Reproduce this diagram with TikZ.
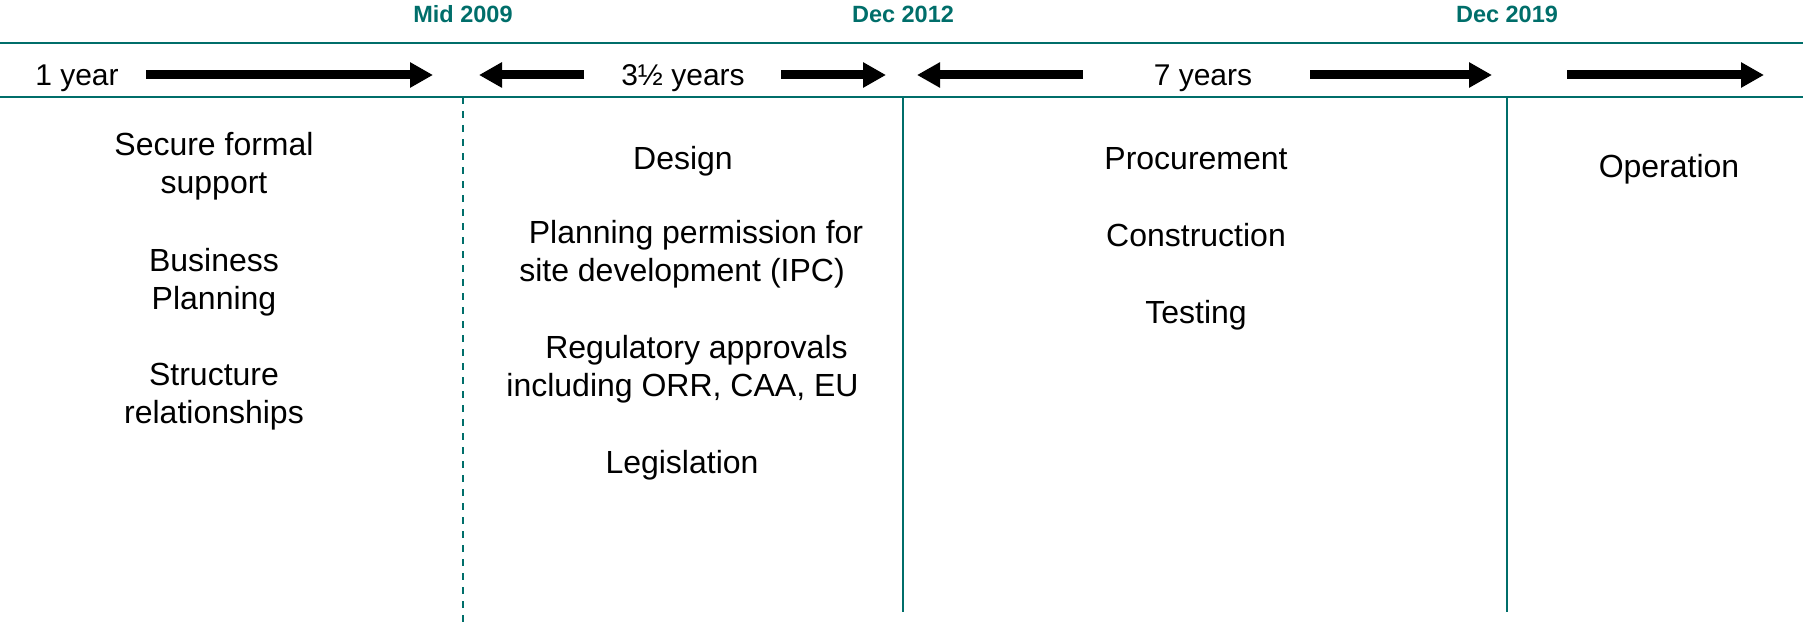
\documentclass[tikz,border=0pt]{standalone}
\usepackage{fontspec}
\setmainfont{Liberation Sans}
\usetikzlibrary{arrows.meta}
\definecolor{tealc}{RGB}{0,110,106}
\tikzset{
  hdr/.style={anchor=base, inner sep=0pt, text=tealc, font=\fontsize{23.5}{27}\selectfont\bfseries},
  dur/.style={anchor=base, inner sep=0pt, font=\fontsize{30}{34}\selectfont},
  item/.style={anchor=base, inner sep=0pt, align=center, font=\fontsize{32}{37.5}\selectfont},
  hline/.style={draw=tealc, line width=2.5pt},
  vline/.style={draw=tealc, line width=2pt},
  dline/.style={draw=tealc, line width=2pt, dash pattern=on 7pt off 7pt},
  bigarrow/.style={line width=9pt, -{Triangle[width=24pt,length=23pt]}},
}
\begin{document}
\begin{tikzpicture}[x=1pt,y=-1pt]
\useasboundingbox (0,0) rectangle (1803,623);
% header labels
\node[hdr] (m09) at (463,23) {Mid 2009};
\node[hdr] (d12) at (903,23) {Dec 2012};
\node[hdr] (d19) at (1507,23) {Dec 2019};
% horizontal rules
\coordinate (tl) at (0,43); \coordinate (tr) at (1803,43);
\coordinate (bl) at (0,97); \coordinate (br) at (1803,97);
\draw[hline] (tl) -- (tr);
\draw[hline] (bl) -- (br);
% vertical separators
\coordinate (v1t) at (463,97); \coordinate (v1b) at (463,623);
\coordinate (v2t) at (903,97); \coordinate (v2b) at (903,612);
\coordinate (v3t) at (1507,97); \coordinate (v3b) at (1507,612);
\draw[dline] (v1t) -- (v1b);
\draw[vline] (v2t) -- (v2b);
\draw[vline] (v3t) -- (v3b);
% duration row
\node[dur] (y1) at (77,86) {1 year};
\node[dur] (y35) at (683,86) {3\textonehalf{} years};
\node[dur] (y7) at (1203,86) {7 years};
\coordinate (a1s) at (146,75); \coordinate (a1e) at (433,75);
\coordinate (a2s) at (584,75); \coordinate (a2e) at (479,75);
\coordinate (a3s) at (781,75); \coordinate (a3e) at (886,75);
\coordinate (a4s) at (1083,75); \coordinate (a4e) at (917,75);
\coordinate (a5s) at (1310,75); \coordinate (a5e) at (1492,75);
\coordinate (a6s) at (1567,75); \coordinate (a6e) at (1764,75);
\draw[bigarrow] (a1s) -- (a1e);
\draw[bigarrow] (a2s) -- (a2e);
\draw[bigarrow] (a3s) -- (a3e);
\draw[bigarrow] (a4s) -- (a4e);
\draw[bigarrow] (a5s) -- (a5e);
\draw[bigarrow] (a6s) -- (a6e);
% column 1 (base anchor = baseline of last line)
\node[item] (c1a) at (214,193) {Secure formal\\support};
\node[item] (c1b) at (214,309) {Business\\Planning};
\node[item] (c1c) at (214,423) {Structure\\relationships};
% column 2
\node[item] (c2a) at (683,169) {Design};
\node[item] (c2b) at (682,281) {\hspace*{28pt}Planning permission for\\site development (IPC)};
\node[item] (c2c) at (682.5,396) {\hspace*{28pt}Regulatory approvals\\including ORR, CAA, EU};
\node[item] (c2d) at (682,473) {Legislation};
% column 3
\node[item] (c3a) at (1196,169) {Procurement};
\node[item] (c3b) at (1196,246) {Construction};
\node[item] (c3c) at (1196,323) {Testing};
% column 4
\node[item] (c4a) at (1669,177) {Operation};
\end{tikzpicture}
\end{document}
